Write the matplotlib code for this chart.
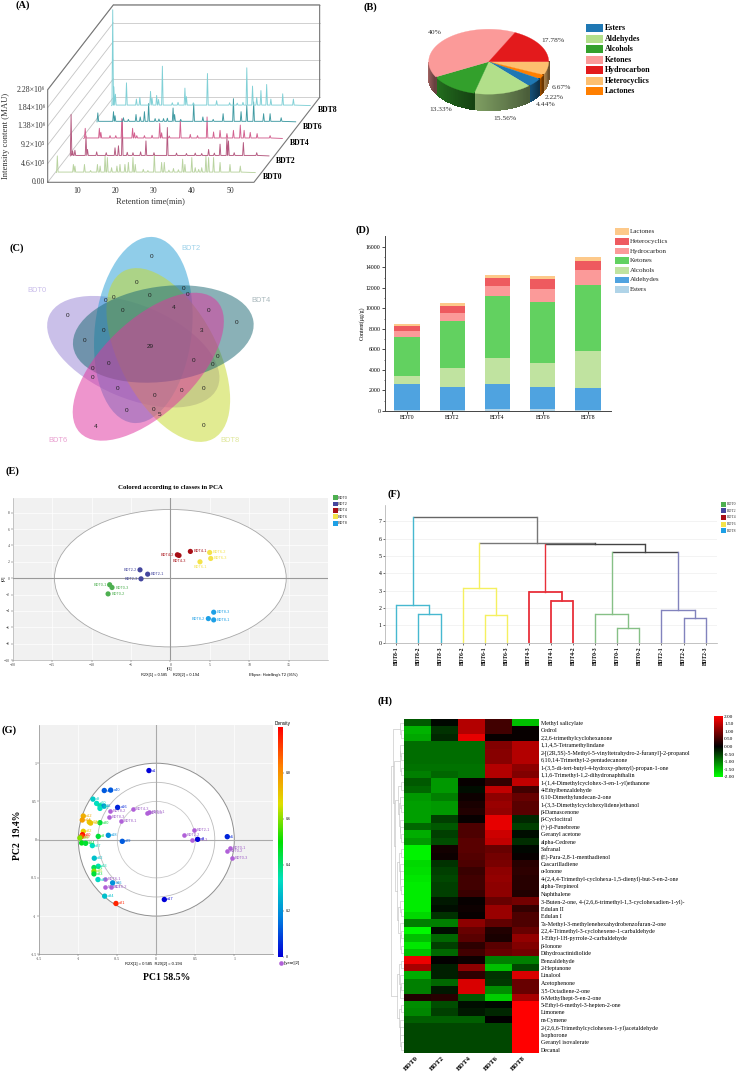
import matplotlib
matplotlib.use('Agg')
import matplotlib.pyplot as plt
from matplotlib.colors import LinearSegmentedColormap
from matplotlib.patches import Ellipse, Rectangle
import numpy as np

W, H = 738, 1073
SERIF = ['Liberation Serif', 'DejaVu Sans']
SANS = ['Liberation Sans', 'DejaVu Sans']
plt.rcParams['font.family'] = SERIF

# (A) chromatograms: retention time (min) and intensity (1e5 MAU)
samples = ['BDT0', 'BDT2', 'BDT4', 'BDT6', 'BDT8']
rt_bdt0 = [4.8, 9, 9.4, 11.9, 15.3, 16, 17.3, 17.9, 19, 20.4, 21.2, 22.5, 23.4, 24.6, 25.2, 27.3, 30.2, 32.1, 32.8, 35.2, 37.6, 38.2, 40, 40.9, 41.8, 42.6, 43.7, 44.4, 45.7, 47.4, 50, 52.7, 13.5, 28.5, 34, 36.5]
int_bdt0 = [4.1, 2, 1.6, 2, 2, 1.6, 4.1, 3.7, 1.2, 1.6, 2, 2, 2.5, 3.7, 2, 0.8, 4.5, 2.5, 2.5, 1, 3.3, 2, 3.7, 1.2, 0.8, 1.2, 4.1, 3.7, 3.7, 2.5, 2, 1.6, 0.5, 0.5, 0.6, 0.7]
rt_bdt2 = [4.8, 5.2, 5.8, 8.7, 9.1, 11.5, 16.3, 17.2, 18.2, 24.4, 30, 32.4, 37.3, 40.8, 43.8, 45.6, 46, 49.9, 53.4, 14, 21, 26.5, 35, 39, 19.5, 23, 42.3, 47.5]
int_bdt2 = [10.2, 1.2, 1.4, 4.9, 1.6, 1, 2, 2.5, 9, 3.7, 7, 0.7, 0.7, 1.6, 2.9, 4.5, 3.7, 3.3, 0.8, 0.8, 0.8, 0.8, 0.6, 0.6, 0.9, 1, 0.7, 0.8]
rt_bdt4 = [5, 8.7, 9.1, 11.5, 14.6, 17.4, 17.9, 18.5, 24.5, 29.9, 32.5, 34.4, 36.9, 38.6, 40.3, 42.1, 43.8, 45.6, 46.6, 48.2, 50, 53.4, 20.5, 22.5, 27, 13, 25]
int_bdt4 = [2.5, 2.5, 1.5, 0.7, 4.9, 2.5, 1.4, 0.7, 3.7, 4.5, 1, 0.7, 5.3, 1.6, 2, 1.2, 2, 3.3, 2, 1.5, 1.2, 0.7, 0.7, 0.8, 0.6, 0.7, 1.4]
rt_bdt6 = [4.8, 8.9, 9.3, 11.5, 14.8, 15.9, 17, 18.1, 19.8, 22, 24.5, 24.9, 29.9, 32.3, 37.6, 40.3, 42.3, 43.8, 45.6, 48.2, 49.9, 52.8, 26.5, 35, 12.8, 20.8, 23]
int_bdt6 = [2.2, 2.5, 1.5, 1, 1.8, 1.2, 2.5, 4.5, 0.8, 0.8, 3.4, 1.8, 4.5, 1.2, 2, 5.7, 2.5, 4.1, 4.9, 2, 2, 1, 0.6, 0.6, 0.6, 0.7, 0.9]
rt_bdt8 = [4.9, 5.2, 5.6, 8.5, 11.1, 12, 14.8, 15.2, 16.4, 17.9, 23.8, 24.2, 29.7, 32.1, 40, 41.5, 42.6, 43.7, 45.2, 46.3, 49.4, 52.2, 20.5, 26, 35.5, 37.5, 16.9, 22, 39]
int_bdt8 = [23.6, 4.6, 2.8, 5.6, 1.6, 2, 3.5, 1.8, 2.5, 9.7, 4.3, 2.2, 7.9, 1.2, 9.3, 4.8, 2, 3.7, 5.2, 1.6, 2.9, 1.6, 0.7, 0.7, 0.7, 0.6, 1.5, 0.8, 0.8]
rt_all = [rt_bdt0, rt_bdt2, rt_bdt4, rt_bdt6, rt_bdt8]
int_all = [int_bdt0, int_bdt2, int_bdt4, int_bdt6, int_bdt8]
depth_x = [0.0, 3.6, 7.1, 10.6, 14.4]
depth_y = [2.4, 6.5, 10.8, 14.9, 18.9]
trace_colors = ['#b9d3a0', '#b4587f', '#d2608f', '#3f9aa2', '#80d0d6']
a_yticks = [0, 4.6, 9.2, 13.8, 18.4, 22.8]
a_ylabels = ['0.00', '4.6×10⁵', '9.2×10⁵', '1.38×10⁶', '1.84×10⁶', '2.28×10⁶']
a_xticks = [10, 20, 30, 40, 50]

# (B) pie, clockwise from the right side
pie_names = ['Heterocyclics', 'Lactones', 'Esters', 'Aldehydes', 'Alcohols', 'Ketones', 'Hydrocarbon']
pie_values = [6.67, 2.22, 4.44, 15.56, 13.33, 40, 17.78]
pie_colors = ['#fdbf6f', '#ff7f00', '#1f78b4', '#b2df8a', '#33a02c', '#fb9a99', '#e31a1c']
pie_legend = ['Esters', 'Aldehydes', 'Alcohols', 'Ketones', 'Hydrocarbon', 'Heterocyclics', 'Lactones']
pie_text = ['6.67%', '2.22%', '4.44%', '15.56%', '13.33%', '40%', '17.78%']
pie_text_x = [545, 523, 496, 376, 183, 165, 519]
pie_text_y = [262, 293, 315, 354, 329, 97, 121]

# (C) venn counts
venn_vals = [0, 0, 0, 0, 0, 0, 0, 0, 0, 0, 0, 4, 3, 0, 0, 29, 0, 0, 0, 0, 0, 0, 0, 0, 0, 0, 0, 0, 5, 4, 0]
venn_x = [455, 411, 448, 550, 562, 340, 317, 367, 202, 627, 709, 522, 604, 310, 254, 452, 326, 279, 277, 582, 653, 637, 352, 463, 545, 612, 460, 381, 479, 287, 612]
venn_y = [93, 171, 212, 190, 210, 218, 225, 258, 272, 257, 291, 248, 318, 318, 348, 363, 415, 432, 458, 408, 396, 420, 491, 512, 497, 490, 554, 557, 568, 603, 601]

# (D) stacked content by class
d_classes = ['Esters', 'Aldehydes', 'Alcohols', 'Ketones', 'Hydrocarbon', 'Heterocyclics', 'Lactones']
d_esters = [100, 100, 195, 195, 100]
d_aldehydes = [2534, 2240, 2439, 2114, 2144]
d_alcohols = [781, 1855, 2536, 2406, 3576]
d_ketones = [3772, 4585, 6050, 5885, 6473]
d_hydrocarbon = [618, 780, 975, 1335, 1430]
d_hetero = [488, 684, 813, 975, 944]
d_lactones = [227, 256, 292, 290, 357]
d_colors = ['#b0d4e8', '#4fa3e0', '#c0e3a0', '#62d160', '#fb9a99', '#ee5a5f', '#fdc98a']

# (E) PCA scores
e_names = ['BDT0-1', 'BDT0-3', 'BDT0-2', 'BDT2-2', 'BDT2-1', 'BDT2-3', 'BDT4-2', 'BDT4-3', 'BDT4-1',
           'BDT6-2', 'BDT6-3', 'BDT6-1', 'BDT8-3', 'BDT8-2', 'BDT8-1']
e_x = [-7.7, -7.4, -7.9, -3.85, -2.88, -3.72, 0.89, 1.1, 2.54, 4.99, 5.12, 3.76, 5.5, 4.82, 5.5]
e_y = [-0.8, -1.14, -1.92, 1.02, 0.49, -0.08, 2.86, 2.78, 3.27, 3.14, 2.41, 2.0, -4.16, -4.94, -5.1]
group_colors = ['#4daf50', '#45479e', '#a80f16', '#f4e34a', '#1ea0e6']

# (F) dendrogram: leaves then merges (left, right, height)
f_leaves = ['BDT8-1', 'BDT8-2', 'BDT8-3', 'BDT6-2', 'BDT6-1', 'BDT6-3', 'BDT4-3', 'BDT4-1', 'BDT4-2',
            'BDT0-3', 'BDT0-1', 'BDT0-2', 'BDT2-1', 'BDT2-2', 'BDT2-3']
f_left = [1, 0, 4, 3, 7, 6, 10, 9, 13, 12, 22, 20, 18, 16]
f_right = [2, 15, 5, 17, 8, 19, 11, 21, 14, 23, 24, 25, 26, 27]
f_height = [1.63, 2.2, 1.6, 3.15, 2.4, 2.95, 0.83, 1.67, 1.4, 1.87, 5.2, 5.68, 5.75, 7.25]
f_colors = ['#47b8d0', '#47b8d0', '#f5f060', '#f5f060', '#e8303a', '#e8303a', '#86c086', '#86c086',
            '#8283bd', '#8283bd', '#444444', '#444444', '#777777', '#666666']

# (G) loadings and scores
g_var_names = ['a1', 'a41', 'a40', 'a9', 'a10', 'a11', 'a6', 'a16', 'a25', 'a12', 'a14', 'a28', 'a15', 'a30', 'a22', 'a20', 'a19', 'a23',
               'a3', 'a18', 'a29', 'a26', 'a24', 'a27', 'a32', 'a13', 'a31', 'a35', 'a33', 'a37', 'a36', 'a34', 'a21', 'a17', 'a8', 'a5']
g_var_x = [-0.094, -0.667, -0.585, -0.812, -0.765, -0.722, -0.671, -0.496, -0.722, -0.936, -0.949, -0.859, -0.842, -0.722, -0.936, -0.947, -0.96, -0.98,
           -0.744, -0.615, -0.436, -0.957, -0.906, -0.82, -0.795, -0.744, -0.799, -0.799, -0.799, -0.748, -0.56, -0.662, -0.517, 0.103, 0.53, 0.91]
g_var_y = [0.904, 0.643, 0.648, 0.53, 0.474, 0.443, 0.439, 0.422, 0.409, 0.309, 0.257, 0.23, 0.217, 0.222, 0.109, 0.065, 0.039, 0.022,
           0.043, 0.057, -0.022, -0.043, -0.048, -0.078, -0.243, -0.348, -0.365, -0.413, -0.448, -0.522, -0.565, -0.739, -0.835, -0.783, 0.004, 0.039]
g_var_density = [0, 0.12, 0.12, 0.3, 0.33, 0.36, 0.2, 0.05, 0.33, 0.75, 0.78, 0.7, 0.72, 0.45, 0.7, 0.98, 0.9, 0.6,
                 0.45, 0.2, 0.12, 0.48, 0.45, 0.33, 0.28, 0.35, 0.42, 0.6, 0.45, 0.32, 0.2, 0.28, 0.95, 0, 0, 0.05]
g_obs_names = ['BDT4-3', 'BDT4-1', 'BDT4-2', 'BDT8-2', 'BDT8-3', 'BDT8-1', 'BDT2-1', 'BDT2-2', 'BDT2-3',
               'BDT0-1', 'BDT0-2', 'BDT0-3', 'BDT6-1', 'BDT6-2', 'BDT6-3']
g_obs_x = [-0.295, -0.094, -0.12, -0.598, -0.611, -0.453, 0.479, 0.359, 0.462, 0.944, 0.91, 0.97, -0.66, -0.585, -0.662]
g_obs_y = [0.404, 0.361, 0.343, 0.374, 0.296, 0.248, 0.126, 0.065, -0.009, -0.113, -0.148, -0.239, -0.517, -0.613, -0.617]

# (H) heatmap
h_cols = ['BDT0', 'BDT2', 'BDT4', 'BDT6', 'BDT8']
h_rows = ['Methyl salicylate', 'Cedrol', '2,2,6-trimethylcyclohexanone', '1,1,4,5-Tetramethylindane',
          '2-[(2R,5S)-5-Methyl-5-vinyltetrahydro-2-furanyl]-2-propanol', '6,10,14-Trimethyl-2-pentadecanone',
          '1-(3,5-di-tert-butyl-4-hydroxy-phenyl)-propan-1-one', '1,1,6-Trimethyl-1,2-dihydronaphthalin',
          '1-(1,4-Dimethylcyclohex-3-en-1-yl)ethanone', '4-Ethylbenzaldehyde', '6,10-Dimethylundecan-2-one',
          '1-(3,3-Dimethylcyclohexylidene)ethanol', 'β-Damascenone', 'β-Cyclocitral', '(+)-β-Funebrene',
          'Geranyl acetone', 'alpha-Cedrene', 'Safranal', '(E)-Para-2,8-1-menthadienol', 'Cascarilladiene',
          'α-Ionone', '4-(2,4,4-Trimethyl-cyclohexa-1,5-dienyl)-but-3-en-2-one', 'alpha-Terpineol', 'Naphthalene',
          '3-Buten-2-one, 4-(2,6,6-trimethyl-1,3-cyclohexadien-1-yl)-', 'Edulan II', 'Edulan I',
          '7a-Methyl-3-methylenehexahydrobenzofuran-2-one', '2,2,4-Trimethyl-3-cyclohexene-1-carbaldehyde',
          '1-Ethyl-1H-pyrrole-2-carbaldehyde', 'β-Ionone', 'Dihydroactinidiolide', 'Benzaldehyde', '2-Heptanone',
          'Linalool', 'Acetophenone', '3,5-Octadiene-2-one', '6-Methylhept-5-en-2-one',
          '5-Ethyl-6-methyl-3-hepten-2-one', 'Limonene', 'm-Cymene',
          '2-(2,6,6-Trimethylcyclohexen-1-yl)acetaldehyde', 'Isophorone', 'Geranyl isovalerate', 'Decanal']
h_values = [
    [-0.7, -0.05, 1.4, 0.5, -1.5], [-1.4, -0.4, 1.4, 0.5, 0.05], [-1.3, -0.3, 1.8, 0.05, 0.05],
    [-0.85, -0.85, -0.85, 1.0, 1.4], [-0.85, -0.85, -0.85, 1.05, 1.4], [-0.85, -0.85, -0.85, 1.05, 1.4],
    [-0.9, -0.9, -0.9, 1.4, 1.1], [-1.0, -0.8, -0.9, 1.4, 1.0], [-0.7, -1.2, 0.05, 0.4, 1.5],
    [-0.8, -1.2, -0.1, 1.5, 0.5], [-1.2, -1.0, 0.1, 1.1, 0.8], [-1.25, -1.2, 0.2, 1.2, 0.7],
    [-1.25, -1.2, 0.25, 1.15, 0.7], [-1.25, -0.5, 0.05, 1.8, -0.3], [-0.8, -0.7, 0.6, 1.8, -0.5],
    [-1.35, -0.5, 0.6, 1.6, -0.1], [-1.2, -0.6, 0.7, 1.5, -0.35], [-1.9, 0.15, 0.7, 0.8, -0.05],
    [-1.9, 0.1, 0.65, 0.9, 0.05], [-1.7, -0.4, 0.6, 0.95, 0.3], [-1.75, -0.5, 0.45, 1.1, 0.35],
    [-1.8, -0.55, 0.5, 1.15, 0.3], [-1.85, -0.5, 0.5, 1.1, 0.3], [-1.85, -0.5, 0.45, 1.1, 0.25],
    [-1.85, -0.2, 0.05, 0.8, 0.9], [-1.85, -0.1, 0.1, 1.2, 0.4], [-1.7, -0.4, 0.05, 1.2, 0.6],
    [-1.0, -1.0, 1.1, 0.75, 0.6], [-1.95, -0.1, 0.8, 0.25, 0.8], [-1.5, -0.8, 0.7, 0.2, 1.15],
    [-1.8, -0.5, 0.35, 0.7, 1.0], [-1.5, -0.8, 0.5, 0.8, 0.9], [1.85, 0.03, 0.1, -1.0, -1.0],
    [1.3, -0.25, 1.1, -1.5, -0.55], [-1.35, -0.25, 0.35, -0.4, 1.7], [-1.0, -0.8, 1.7, -0.45, 0.8],
    [-1.0, -0.2, 1.7, -1.1, 0.8], [0.25, 0.3, -0.7, -1.6, 1.3], [-1.1, -0.6, -0.1, -0.05, 2.0],
    [-1.05, -0.5, -0.2, -0.3, 2.0], [-0.75, -0.75, -0.75, 0.0, 2.0], [-0.55, -0.55, -0.55, -0.55, 2.0],
    [-0.55, -0.55, -0.55, -0.55, 2.0], [-0.55, -0.55, -0.55, -0.55, 2.0], [-0.55, -0.55, -0.55, -0.55, 2.0],
]
h_tree = [[[0, [1, 2]], [[[3, [4, 5]], [6, 7]], [[[8, 9], [[10, [11, 12]], [13, [14, [15, 16]]]]],
          [[[17, 18], [19, [20, [21, [22, 23]]]]], [[24, [25, 26]], [27, [[28, 29], [30, 31]]]]]]]],
          [[[32, 33], [34, [[35, 36], 37]]], [[38, 39], [40, [41, [42, [43, 44]]]]]]]


def pax(x0, y0, x1, y1, **kw):
    # axes from reference pixel corners (top-left origin)
    return fig.add_axes([x0 / W, 1 - y1 / H, (x1 - x0) / W, (y1 - y0) / H], **kw)


fig = plt.figure(figsize=(W / 100, H / 100), dpi=100, facecolor='white')

# overlay in pixel coordinates for drawn panels and loose text
ov = fig.add_axes([0, 0, 1, 1], zorder=10)
ov.set_xlim(0, W)
ov.set_ylim(H, 0)
ov.axis('off')
ov.patch.set_alpha(0)

for lab, lx, ly in [('(A)', 16, 5), ('(B)', 364, 7), ('(C)', 10, 248), ('(D)', 356, 230), ('(E)', 5, 471),
                    ('(F)', 388, 494), ('(G)', 2, 730), ('(H)', 378, 701)]:
    ov.text(lx, ly, lab, fontsize=7.5, fontweight='bold', va='center')

# ---------- (A) ----------
axa = pax(0, 0, 340, 210)
axa.set_xlim(-10.21, 78.8)
axa.set_ylim(-6.82, 44.9)
axa.axis('off')
x0a, dxa, dya = 2.27, 17.2, 20.9
for yt in a_yticks:
    axa.plot([x0a, x0a + dxa], [yt, yt + dya], color='#c4c4c4', lw=0.6)
    axa.plot([x0a + dxa, x0a + dxa + 54], [yt + dya, yt + dya], color='#c9c9c9', lw=0.6)
frame_x = [x0a, x0a, x0a + dxa, x0a + dxa + 54, x0a + dxa + 54, x0a + 54, x0a]
frame_y = [0, a_yticks[-1], a_yticks[-1] + dya, a_yticks[-1] + dya, dya, 0, 0]
axa.plot(frame_x, frame_y, color='#777777', lw=0.8)
for k in range(5):
    order = np.argsort(rt_all[k])
    xs = [4.6]
    ys = [0.0]
    for j in order:
        xs += [rt_all[k][j] - 0.2, rt_all[k][j], rt_all[k][j] + 0.2]
        ys += [0.12, int_all[k][j], 0.12]
    xs.append(56.6)
    ys.append(0.0)
    axa.plot(np.array(xs) + depth_x[k], np.array(ys) + depth_y[k], color=trace_colors[k], lw=0.65)
    axa.text(4.6 + depth_x[k] + 52.9 + 1.0, depth_y[k] - 0.2, samples[k], fontsize=5.6, fontweight='bold',
             ha='left', va='top')
for yt, lab in zip(a_yticks, a_ylabels):
    axa.text(x0a - 0.6, yt, lab, fontsize=5.6, ha='right', va='center', color='#333333')
for xt in a_xticks:
    axa.text(xt, -1.1, str(xt), fontsize=5.6, ha='center', va='top', color='#333333')
axa.text(29.3, -4.6, 'Retention time(min)', fontsize=6, ha='center', va='center', color='#333333')
ov.text(5.7, 136, 'Intensity content (MAU)', fontsize=6.2, rotation=90, ha='center', va='center', color='#333333')

# ---------- (B) ----------
cx, cy, rx, ry, dep = 488.7, 61.7, 60, 32.5, 16
edges = -np.cumsum([0] + pie_values) * 3.6
for i in range(len(pie_values)):
    a1, a0 = edges[i], edges[i + 1]
    ts = np.radians(np.linspace(a0, a1, 60))
    # side wall only on the front half
    vis = ts[(np.sin(ts) <= 0)]
    if len(vis) > 1:
        shade = np.linspace(0.72, 0.42, len(vis) - 1)
        base = np.array(matplotlib.colors.to_rgb(pie_colors[i]))
        for j in range(len(vis) - 1):
            px = cx + rx * np.cos(vis[[j, j + 1, j + 1, j]])
            py = cy - ry * np.sin(vis[[j, j + 1, j + 1, j]]) + np.array([0, 0, dep, dep])
            ov.fill(px, py, color=base * shade[j], lw=0.6, antialiased=False)
    ov.fill(np.r_[cx, cx + rx * np.cos(ts)], np.r_[cy, cy - ry * np.sin(ts)], color=pie_colors[i], lw=0.2)
for t, zx, zy in zip(pie_text, pie_text_x, pie_text_y):
    ov.text(380 + zx / 3, zy / 3, t, fontsize=5.4, ha='center', va='center', color='#333333')
for i, name in enumerate(pie_legend):
    yl = (85 + i * 31.5) / 3
    ov.add_patch(Rectangle((586, yl - 4), 16.5, 8, color=pie_colors[pie_names.index(name)], lw=0))
    ov.text(605, yl, name, fontsize=5.7, fontweight='bold', va='center')

# ---------- (C) ----------
venn_shapes = [((133.3, 351.7), 183, 93, 23, '#9b86d6'), ((143.3, 330), 187, 97, -83.6, '#2a9fd6'),
               ((168.3, 355), 190, 97, 62, '#c7d92e'), ((163.3, 334), 182, 95, -8, '#1f6b75'),
               ((148.3, 366.7), 190, 93, -44, '#e0359f')]
for c, w, h, ang, col in venn_shapes:
    ov.add_patch(Ellipse(c, w, h, angle=ang, facecolor=col, edgecolor='none', alpha=0.52))
for v, zx, zy in zip(venn_vals, venn_x, venn_y):
    ov.text(zx / 3, 225 + zy / 3, str(v), fontsize=4.6, family=SANS, ha='center', va='center',
            color='#222222')
for t, lx, ly, col in [('BDT0', 37, 291, '#c9bdea'), ('BDT2', 191, 249, '#9ed2ea'), ('BDT4', 261, 301, '#aab9bd'),
                       ('BDT6', 58, 440, '#e9a0d0'), ('BDT8', 230, 440, '#dfe79a')]:
    ov.text(lx, ly, t, fontsize=5.4, family=SANS, color=col, ha='center', va='center')

# ---------- (D) ----------
axd = pax(384.7, 236, 610.7, 411)
d_stack = [d_esters, d_aldehydes, d_alcohols, d_ketones, d_hydrocarbon, d_hetero, d_lactones]
bottom = np.zeros(5)
for vals, col in zip(d_stack, d_colors):
    axd.bar(range(5), vals, 0.56, bottom=bottom, color=col, linewidth=0)
    bottom += np.array(vals)
axd.set_xlim(-0.494, 4.5)
axd.set_ylim(0, 17070)
axd.set_xticks(range(5))
axd.set_xticklabels(samples, fontsize=4.2)
axd.set_yticks(range(0, 16001, 2000))
axd.set_yticks(range(1000, 17000, 2000), minor=True)
axd.tick_params(axis='y', labelsize=4.2, length=2, width=0.5, pad=1)
axd.tick_params(axis='y', which='minor', length=1, width=0.4)
axd.tick_params(axis='x', length=2, width=0.5, pad=1)
for s in ['top', 'right']:
    axd.spines[s].set_visible(False)
for s in ['left', 'bottom']:
    axd.spines[s].set_linewidth(0.7)
    axd.spines[s].set_color('#444444')
axd.set_ylabel('Content(μg/g)', fontsize=4.2, labelpad=1)
for i, name in enumerate(d_classes[::-1]):
    yl = 225 + (20 + i * 29) / 3
    ov.add_patch(Rectangle((615, yl - 3.2), 13.5, 6.4, color=d_colors[::-1][i], lw=0))
    ov.text(630, yl, name, fontsize=5.0, va='center', color='#222222')

# ---------- (E) ----------
axe = pax(12.7, 498, 328, 660, facecolor='#f1f1f1')
axe.set_xlim(-20, 20)
axe.set_ylim(-10, 9.8)
axe.grid(color='white', lw=0.5)
axe.set_axisbelow(True)
axe.add_patch(Ellipse((0, 0), 29.4, 16.8, facecolor='white', edgecolor='#a8a8a8', lw=0.6, zorder=1))
axe.axhline(0, color='#999999', lw=0.8, zorder=2)
axe.axvline(0, color='#999999', lw=0.8, zorder=2)
e_cols = [group_colors[i // 3] for i in range(15)]
axe.scatter(e_x, e_y, s=14, c=e_cols, linewidths=0, zorder=3)
e_align = ['right', 'left', 'left', 'right', 'left', 'right', 'right', 'center', 'left', 'left', 'left', 'center', 'left', 'right', 'left']
for n, x, y, c, al in zip(e_names, e_x, e_y, e_cols, e_align):
    off = {'left': 0.4, 'right': -0.4, 'center': 0}[al]
    yy = y - 0.65 if al == 'center' else y
    axe.text(x + off, yy, n, fontsize=2.8, family=SANS, color=c, ha=al, va='center', zorder=4)
axe.set_xticks(range(-20, 16, 5))
axe.set_yticks(range(-10, 9, 2))
axe.tick_params(labelsize=2.8, length=1.2, width=0.3, pad=0.8, colors='#444444')
for s in axe.spines.values():
    s.set_linewidth(0.4)
    s.set_color('#999999')
axe.spines['top'].set_visible(False)
axe.spines['right'].set_visible(False)
ov.text(170, 488, 'Colored according to classes in PCA', fontsize=4.9, fontweight='bold', ha='center', va='center')
ov.text(170, 669, 't[1]', fontsize=2.8, family=SANS, ha='center', va='center')
ov.text(4, 578, 't[2]', fontsize=2.8, family=SANS, ha='center', va='center', rotation=90)
ov.text(170, 675, 'R2X[1] = 0.585     R2X[2] = 0.194', fontsize=2.8, family=SANS, ha='center', va='center')
ov.text(273, 675, "Ellipse: Hotelling's T2 (95%)", fontsize=2.8, family=SANS, ha='center', va='center')
for i, s_ in enumerate(samples):
    yl = 480 + (53 + i * 19.2) / 3
    ov.add_patch(Rectangle((332.7, yl - 2.4), 4.8, 4.8, color=group_colors[i], lw=0))
    ov.text(338, yl, s_, fontsize=2.8, family=SANS, va='center', color='#333333')

# ---------- (F) ----------
axf = pax(385.3, 505.3, 716.7, 642.7)
node_x = list(range(15)) + [0.0] * len(f_left)
node_h = [0.0] * (15 + len(f_left))
node_c = ['#777777'] * (15 + len(f_left))
for i, (a, b, h, c) in enumerate(zip(f_left, f_right, f_height, f_colors)):
    nid = 15 + i
    node_x[nid] = (node_x[a] + node_x[b]) / 2
    node_h[nid] = h
    node_c[nid] = c
for i, (a, b, h, c) in enumerate(zip(f_left, f_right, f_height, f_colors)):
    lw = 1.3 if c == '#e8303a' else 1.0
    axf.plot([node_x[a], node_x[b]], [h, h], color=c, lw=lw, solid_capstyle='butt', zorder=3)
    axf.plot([node_x[a], node_x[a]], [node_h[a], h], color=c if a < 15 else node_c[a], lw=lw, zorder=3)
    axf.plot([node_x[b], node_x[b]], [node_h[b], h], color=c if b < 15 else node_c[b], lw=lw, zorder=3)
axf.set_xlim(-0.5, 14.5)
axf.set_ylim(0, 7.92)
axf.set_yticks(range(0, 8))
axf.set_xticks(range(15))
axf.set_xticklabels(f_leaves, rotation=90, fontsize=4.0, fontweight='bold')
axf.grid(axis='y', color='#eeeeee', lw=0.5)
axf.tick_params(axis='y', labelsize=4.2, length=1.5, width=0.4, pad=1)
axf.tick_params(axis='x', length=1.5, width=0.4, pad=1)
for s in ['top', 'right']:
    axf.spines[s].set_visible(False)
for s in ['left', 'bottom']:
    axf.spines[s].set_linewidth(0.5)
    axf.spines[s].set_color('#aaaaaa')
for i, s_ in enumerate(samples):
    yl = 480 + (72 + i * 20) / 3
    ov.add_patch(Rectangle((720.7, yl - 2.4), 5, 5, color=group_colors[i], lw=0))
    ov.text(726.5, yl, s_, fontsize=2.8, va='center', color='#333333')

# ---------- (G) ----------
density_cmap = LinearSegmentedColormap.from_list(
    'density', ['#0000d8', '#0080e0', '#00e0c0', '#00e000', '#e0e000', '#ff8000', '#ff0000'])
axg = pax(39.3, 725, 273.3, 954.3, facecolor='#f1f1f1')
axg.set_xlim(-1.5, 1.5)
axg.set_ylim(-1.5, 1.5)
axg.grid(color='white', lw=0.5)
axg.set_axisbelow(True)
axg.add_patch(Ellipse((0, 0), 2, 2, facecolor='white', edgecolor='#909090', lw=0.7, zorder=1))
axg.add_patch(Ellipse((0, 0), 1.5, 1.5, facecolor='none', edgecolor='#bbbbbb', lw=0.6, zorder=1))
axg.add_patch(Ellipse((0, 0), 1.0, 1.0, facecolor='none', edgecolor='#c8c8c8', lw=0.6, zorder=1))
axg.axhline(0, color='#aaaaaa', lw=0.8, zorder=1.5)
axg.axvline(0, color='#aaaaaa', lw=0.8, zorder=1.5)
axg.scatter(g_var_x, g_var_y, s=15, c=g_var_density, cmap=density_cmap, vmin=0, vmax=1, linewidths=0, zorder=4)
axg.scatter(g_obs_x, g_obs_y, s=11, c='#b060d8', linewidths=0, zorder=3)
for n, x, y, d in zip(g_var_names, g_var_x, g_var_y, g_var_density):
    axg.text(x + 0.035, y, n, fontsize=2.8, family=SANS, color=density_cmap(d), va='center', zorder=5)
for n, x, y in zip(g_obs_names, g_obs_x, g_obs_y):
    axg.text(x + 0.035, y, n, fontsize=2.8, family=SANS, color='#a060c8', va='center', zorder=3)
axg.set_xticks([-1.5, -1, -0.5, 0, 0.5, 1])
axg.set_xticklabels(['-1.5', '-1', '-0.5', '0', '0.5', '1'])
axg.set_yticks([-1.5, -1, -0.5, 0, 0.5, 1])
axg.set_yticklabels(['-1.5', '-1', '-0.5', '0', '0.5', '1'])
axg.tick_params(labelsize=2.8, length=1.2, width=0.3, pad=0.8, colors='#444444')
for s in axg.spines.values():
    s.set_linewidth(0.5)
    s.set_color('#888888')
axg.spines['top'].set_visible(False)
axg.spines['right'].set_visible(False)
ov.text(18, 835, 'PC2  19.4%', fontsize=7, fontweight='bold', rotation=90, ha='center', va='center')
ov.text(167, 977, 'PC1 58.5%', fontsize=7, fontweight='bold', ha='center', va='center')
ov.text(153, 964, 'R2X[1] = 0.585  R2X[2] = 0.194', fontsize=3, family=SANS, ha='center', va='center')
ov.scatter([281], [963], s=11, c='#b060d8', linewidths=0)
ov.text(284, 963, 't[year][2]', fontsize=3, family=SANS, va='center')
ov.text(283, 723.5, 'Density', fontsize=3.4, family=SANS, ha='center', va='center')
cb_g = pax(278.3, 726.7, 283.3, 956.7)
cb_g.imshow(np.linspace(1, 0, 200).reshape(-1, 1), cmap=density_cmap, aspect='auto', extent=[0, 1, 0, 1])
cb_g.set_xticks([])
cb_g.yaxis.tick_right()
cb_g.set_yticks([0, 0.2, 0.4, 0.6, 0.8])
cb_g.set_yticklabels(['0', '0.2', '0.4', '0.6', '0.8'])
cb_g.tick_params(labelsize=3, length=1, width=0.3, pad=1)
for s in cb_g.spines.values():
    s.set_visible(False)

# ---------- (H) ----------
gr_cmap = LinearSegmentedColormap.from_list('gkr', ['#00ff00', '#000000', '#ff0000'])
axh = pax(403.7, 719.3, 538, 1053.3)
axh.imshow(np.array(h_values), cmap=gr_cmap, vmin=-2, vmax=2, aspect='auto', interpolation='nearest')
axh.yaxis.tick_right()
axh.set_yticks(range(len(h_rows)))
axh.set_yticklabels(h_rows, fontsize=4.3)
axh.set_xticks(range(5))
axh.set_xticklabels(h_cols, fontsize=5.0, fontweight='bold', rotation=45, ha='right', va='center', rotation_mode='anchor')
axh.tick_params(length=0, pad=2)
axh.tick_params(axis='x', pad=3)
for s in axh.spines.values():
    s.set_visible(False)

# row tree to the left of the heatmap
axt = pax(391, 719.3, 403.7, 1053.3)
axt.set_xlim(1, 0)
axt.set_ylim(len(h_rows) - 0.5, -0.5)
axt.axis('off')


def draw_node(node):
    # returns row position, height and number of leaves below
    if not isinstance(node, list):
        return node, 0.0, 1
    ya, ha, na = draw_node(node[0])
    yb, hb, nb = draw_node(node[1])
    n = na + nb
    hn = (n / len(h_rows)) ** 0.5 * 0.98
    axt.plot([ha, hn, hn, hb], [ya, ya, yb, yb], color='#bdbdbd', lw=0.4)
    return (ya + yb) / 2, hn, n


draw_node(h_tree)

cb_h = pax(714.3, 716, 722.7, 777)
cb_h.imshow(np.linspace(2, -2, 100).reshape(-1, 1), cmap=gr_cmap, vmin=-2, vmax=2, aspect='auto', extent=[0, 1, -2, 2])
cb_h.set_xticks([])
cb_h.yaxis.tick_right()
cb_h.set_yticks(np.arange(-2, 2.01, 0.5))
cb_h.set_yticklabels(['%.2f' % v for v in np.arange(-2, 2.01, 0.5)])
cb_h.tick_params(labelsize=3.8, length=0, pad=1)
for s in cb_h.spines.values():
    s.set_visible(False)

fig.savefig('out.png', dpi=100)
